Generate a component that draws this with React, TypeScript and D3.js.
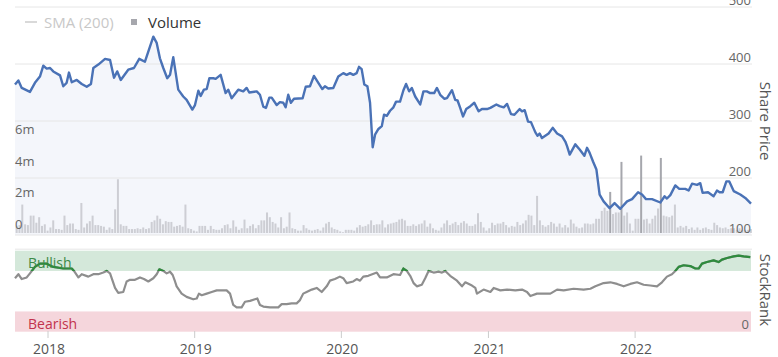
import React from "react";
import * as d3 from "d3";

const W = 778;
const H = 357;
const FONT = "'Open Sans', 'Noto Sans', sans-serif";

// [decimal year, share price]
const sharePrice: [number, number][] = [
  [2017.775, 364], [2017.798, 371], [2017.821, 358], [2017.877, 351], [2017.911, 367], [2017.945, 378],
  [2017.968, 397], [2017.991, 392], [2018.014, 393], [2018.036, 387], [2018.082, 380], [2018.104, 361],
  [2018.127, 367], [2018.143, 385], [2018.162, 368], [2018.196, 372], [2018.230, 365], [2018.264, 360],
  [2018.293, 365], [2018.309, 393], [2018.343, 399], [2018.389, 409], [2018.423, 407], [2018.450, 376],
  [2018.472, 387], [2018.496, 372], [2018.547, 390], [2018.586, 393], [2018.622, 409], [2018.661, 404],
  [2018.718, 448], [2018.741, 437], [2018.763, 410], [2018.786, 393], [2018.813, 375], [2018.832, 381],
  [2018.854, 412], [2018.888, 355], [2018.922, 343], [2018.945, 337], [2018.984, 320], [2019.002, 328],
  [2019.025, 353], [2019.041, 344], [2019.063, 355], [2019.082, 356], [2019.100, 375], [2019.127, 375],
  [2019.143, 374], [2019.177, 381], [2019.211, 349], [2019.229, 355], [2019.252, 340], [2019.297, 355],
  [2019.331, 352], [2019.354, 358], [2019.372, 350], [2019.423, 352], [2019.445, 346], [2019.468, 325],
  [2019.486, 323], [2019.509, 341], [2019.525, 341], [2019.559, 328], [2019.581, 333], [2019.604, 332],
  [2019.620, 324], [2019.638, 346], [2019.656, 332], [2019.677, 339], [2019.736, 340], [2019.757, 360],
  [2019.786, 361], [2019.813, 379], [2019.843, 367], [2019.870, 356], [2019.888, 361], [2019.911, 357],
  [2019.945, 358], [2019.979, 378], [2020.013, 384], [2020.036, 381], [2020.059, 384], [2020.081, 381],
  [2020.104, 384], [2020.120, 395], [2020.138, 391], [2020.156, 364], [2020.177, 361], [2020.195, 332],
  [2020.213, 254], [2020.229, 276], [2020.252, 286], [2020.275, 291], [2020.290, 311], [2020.309, 309],
  [2020.331, 318], [2020.354, 324], [2020.372, 334], [2020.399, 334], [2020.422, 354], [2020.440, 365],
  [2020.461, 352], [2020.479, 358], [2020.502, 343], [2020.536, 329], [2020.558, 352], [2020.581, 352],
  [2020.604, 349], [2020.631, 349], [2020.650, 358], [2020.672, 346], [2020.701, 339], [2020.718, 340],
  [2020.752, 354], [2020.774, 337], [2020.790, 336], [2020.808, 323], [2020.827, 308], [2020.849, 321],
  [2020.877, 326], [2020.904, 332], [2020.933, 317], [2020.956, 321], [2020.990, 321], [2021.013, 323],
  [2021.054, 329], [2021.076, 326], [2021.104, 324], [2021.127, 330], [2021.154, 312], [2021.177, 311],
  [2021.213, 321], [2021.229, 317], [2021.247, 319], [2021.270, 299], [2021.290, 298], [2021.320, 280],
  [2021.335, 274], [2021.349, 278], [2021.365, 270], [2021.410, 278], [2021.438, 288], [2021.468, 278],
  [2021.502, 273], [2021.524, 264], [2021.536, 256], [2021.554, 241], [2021.592, 259], [2021.622, 250],
  [2021.654, 239], [2021.672, 253], [2021.690, 244], [2021.713, 229], [2021.736, 215], [2021.758, 171],
  [2021.785, 159], [2021.826, 147], [2021.860, 156], [2021.899, 146], [2021.945, 159], [2021.979, 163],
  [2022.020, 175], [2022.047, 171], [2022.074, 163], [2022.115, 163], [2022.172, 157], [2022.201, 168],
  [2022.217, 164], [2022.240, 170], [2022.274, 187], [2022.301, 181], [2022.342, 181], [2022.365, 178],
  [2022.388, 190], [2022.422, 188], [2022.444, 191], [2022.460, 174], [2022.497, 175], [2022.535, 168],
  [2022.558, 178], [2022.576, 175], [2022.597, 175], [2022.622, 194], [2022.642, 194], [2022.672, 177],
  [2022.717, 171], [2022.751, 165], [2022.790, 155],
];

// [decimal year, StockRank]
const stockRank: [number, number][] = [
  [2017.775, 66], [2017.798, 71], [2017.821, 65], [2017.855, 67], [2017.877, 72], [2017.911, 80],
  [2017.945, 84], [2017.991, 84], [2018.036, 80], [2018.104, 78], [2018.162, 78], [2018.177, 75],
  [2018.207, 67], [2018.230, 71], [2018.275, 68], [2018.309, 71], [2018.343, 71], [2018.377, 73],
  [2018.400, 75], [2018.423, 72], [2018.457, 54], [2018.479, 48], [2018.513, 49], [2018.536, 62],
  [2018.559, 64], [2018.593, 64], [2018.627, 67], [2018.654, 65], [2018.684, 62], [2018.718, 66],
  [2018.741, 71], [2018.759, 77], [2018.786, 75], [2018.809, 72], [2018.832, 74], [2018.850, 70],
  [2018.866, 62], [2018.877, 56], [2018.911, 47], [2018.945, 43], [2018.990, 40], [2019.014, 41],
  [2019.029, 47], [2019.048, 45], [2019.082, 47], [2019.116, 49], [2019.150, 51], [2019.184, 51],
  [2019.218, 51], [2019.241, 47], [2019.263, 33], [2019.286, 30], [2019.320, 30], [2019.343, 37],
  [2019.377, 38], [2019.411, 40], [2019.427, 41], [2019.445, 33], [2019.468, 31], [2019.513, 30],
  [2019.570, 30], [2019.593, 34], [2019.627, 34], [2019.661, 35], [2019.695, 35], [2019.718, 39],
  [2019.740, 47], [2019.763, 49], [2019.798, 52], [2019.832, 54], [2019.866, 49], [2019.900, 56],
  [2019.922, 63], [2019.956, 65], [2019.990, 68], [2020.013, 66], [2020.036, 60], [2020.081, 62],
  [2020.104, 65], [2020.127, 63], [2020.149, 68], [2020.183, 69], [2020.241, 73], [2020.263, 67],
  [2020.309, 67], [2020.354, 71], [2020.399, 70], [2020.422, 78], [2020.445, 75], [2020.468, 69],
  [2020.491, 60], [2020.513, 56], [2020.547, 58], [2020.570, 66], [2020.593, 75], [2020.627, 73],
  [2020.661, 74], [2020.684, 73], [2020.706, 75], [2020.740, 69], [2020.786, 63], [2020.820, 56],
  [2020.843, 61], [2020.888, 57], [2020.911, 54], [2020.922, 47], [2020.967, 52], [2021.013, 49],
  [2021.036, 54], [2021.081, 51], [2021.127, 52], [2021.183, 51], [2021.229, 52], [2021.263, 49],
  [2021.286, 44], [2021.331, 47], [2021.376, 47], [2021.422, 47], [2021.468, 52], [2021.513, 51],
  [2021.581, 53], [2021.649, 52], [2021.695, 53], [2021.729, 56], [2021.785, 60], [2021.831, 61],
  [2021.877, 59], [2021.922, 56], [2021.967, 59], [2022.013, 61], [2022.058, 58], [2022.104, 57],
  [2022.149, 56], [2022.183, 61], [2022.217, 68], [2022.251, 71], [2022.274, 75], [2022.297, 80],
  [2022.331, 82], [2022.376, 81], [2022.411, 78], [2022.433, 78], [2022.456, 84], [2022.490, 86],
  [2022.535, 88], [2022.569, 86], [2022.592, 89], [2022.627, 91], [2022.672, 93], [2022.706, 94],
  [2022.740, 93], [2022.785, 92],
];

// weekly volume, millions of shares
const weeklyVolumeM: number[] = [
  0.46, 0.5, 1.8, 0.55, 0.5, 1.1, 1.1, 0.65, 1.0, 0.45, 0.55, 0.15, 0.35, 0.8, 0.25, 0.25, 0.2, 1.1, 0.5, 0.6,
  0.6, 0.25, 0.2, 1.9, 0.35, 0.6, 0.75, 1.1, 0.5, 0.5, 0.45, 0.4, 0.2, 0.35, 0.25, 1.5, 3.4, 0.55, 0.45, 0.45,
  0.25, 0.25, 0.25, 0.3, 0.25, 0.35, 0.25, 0.3, 0.7, 0.8, 1.1, 0.9, 0.55, 0.75, 0.7, 0.7, 0.4, 0.45, 0.5, 0.4,
  1.8, 0.3, 0.25, 0.15, 0.1, 0.45, 0.45, 0.45, 0.2, 0.45, 0.25, 0.2, 0.2, 0.3, 0.5, 0.55, 0.3, 0.8, 0.4, 0.2,
  0.3, 0.85, 0.3, 0.45, 0.55, 0.3, 0.5, 0.8, 0.8, 1.3, 1.0, 0.7, 0.6, 0.35, 1.0, 0.3, 0.4, 1.3, 0.3, 0.25,
  0.15, 0.15, 0.5, 0.3, 0.2, 0.15, 0.2, 0.25, 0.15, 0.35, 0.6, 0.7, 0.35, 0.25, 0.2, 0.1, 0.05, 0.2, 0.2, 0.2,
  0.15, 0.35, 0.5, 0.4, 0.45, 0.55, 0.8, 0.5, 0.55, 0.55, 0.8, 0.35, 0.55, 0.6, 0.65, 0.7, 0.85, 0.9, 0.8, 0.45,
  0.45, 0.55, 0.45, 0.55, 0.6, 0.8, 0.4, 0.6, 0.3, 0.2, 0.15, 0.35, 0.6, 0.8, 0.5, 0.6, 0.7, 0.5, 0.65, 0.75,
  0.6, 0.45, 0.45, 0.55, 1.25, 0.7, 0.35, 0.15, 0.3, 0.65, 0.5, 0.6, 0.6, 0.7, 0.5, 0.35, 0.45, 0.4, 0.7, 0.5,
  0.6, 0.8, 1.15, 1.1, 0.5, 2.35, 0.8, 0.5, 0.4, 0.5, 0.7, 0.6, 0.4, 0.6, 0.35, 0.5, 0.35, 0.85, 0.6, 0.4,
  0.3, 0.35, 0.6, 0.6, 0.55, 0.6, 0.9, 0.9, 1.4, 1.6, 1.4, 2.6, 1.2, 1.3, 1.3, 4.5, 1.1, 1.3, 0.6, 0.15,
  0.9, 0.9, 4.9, 0.85, 0.9, 0.6, 0.9, 1.1, 1.55, 4.75, 1.1, 1.05, 1.0, 1.1, 1.8, 0.35, 0.45, 0.35, 0.45, 0.25,
  0.35, 0.2, 0.35, 0.2, 0.3, 0.35, 0.25, 0.2, 0.65, 0.5, 0.35, 0.3, 0.35, 0.25, 0.3, 0.3, 0.2, 0.3, 0.2, 0.2,
  0.2, 0.25,
];

const priceTicks = [100, 200, 300, 400, 500];
const volumeTicks = [0, 2, 4, 6];
const yearTicks = [2018, 2019, 2020, 2021, 2022];
const rankBands = [
  { label: "Bullish", from: 75, to: 100 },
  { label: "Bearish", from: 0, to: 25 },
];
const rangeStart = 2017.775;
const rangeEnd = 2022.79;

function yearToDate(t: number): Date {
  const y = Math.floor(t);
  const s = Date.UTC(y, 0, 1);
  const e = Date.UTC(y + 1, 0, 1);
  return new Date(s + (t - y) * (e - s));
}

export default function App() {
  const left = 15;
  const right = 751;
  const x = d3.scaleUtc().domain([yearToDate(rangeStart), yearToDate(rangeEnd)]).range([left, right]);
  const yPrice = d3.scaleLinear().domain([100, 500]).range([235, 7]);
  const yVol = d3.scaleLinear().domain([0, 6]).range([233, 138.2]);
  const yRank = d3.scaleLinear().domain([0, 100]).range([331.7, 250.7]);

  const priceLine = d3
    .line<[number, number]>()
    .x((d) => x(yearToDate(d[0])))
    .y((d) => yPrice(d[1]));
  const priceArea = d3
    .area<[number, number]>()
    .x((d) => x(yearToDate(d[0])))
    .y0(yPrice(100))
    .y1((d) => yPrice(d[1]));
  const rankLine = d3
    .line<[number, number]>()
    .x((d) => x(yearToDate(d[0])))
    .y((d) => yRank(d[1]));

  const weeks = d3.utcWeek.range(yearToDate(rangeStart), d3.utcDay.offset(yearToDate(rangeEnd), 1));
  const bars = weeklyVolumeM.map((v, i) => ({ date: weeks[Math.min(i, weeks.length - 1)], v }));
  const darkFrom = yearToDate(2021.5);

  const gridColor = "#e6e6e6";
  const labelColor = "#666";

  return (
    <svg
      width={W}
      height={H}
      style={{ position: "absolute", left: 0, top: 0, background: "#fff" }}
      fontFamily={FONT}
    >
      <defs>
        <clipPath id="bull-clip">
          <rect x={0} y={yRank(100) - 3} width={W} height={yRank(75) - yRank(100) + 3} />
        </clipPath>
      </defs>

      {/* price area */}
      <path d={priceArea(sharePrice) || ""} fill="#f4f6fb" />

      {/* gridlines */}
      {priceTicks.map((t) => (
        <line key={t} x1={left} x2={right + 1} y1={yPrice(t)} y2={yPrice(t)} stroke={gridColor} strokeWidth={1} />
      ))}

      {/* volume bars */}
      {bars.map((b, i) => (
        <rect
          key={i}
          x={x(b.date) - 1}
          y={yVol(b.v)}
          width={2}
          height={yVol(0) - yVol(b.v)}
          fill={b.v > 2.5 && b.date > darkFrom ? "#a6a7ad" : "#cdced4"}
        />
      ))}

      {/* price line */}
      <path d={priceLine(sharePrice) || ""} fill="none" stroke="#4a72b6" strokeWidth={2.4} strokeLinejoin="round" />

      {/* price labels */}
      {priceTicks.map((t) => (
        <text key={t} x={right} y={yPrice(t) - 2.5} textAnchor="end" fontSize={13} fill={labelColor}>
          {t}
        </text>
      ))}
      {/* volume labels */}
      {volumeTicks.map((t) => (
        <text key={t} x={left} y={yVol(t * 1) - 4} fontSize={13} fill={labelColor}>
          {t === 0 ? "0" : `${t}m`}
        </text>
      ))}

      {/* legend */}
      <line x1={25} x2={37} y1={22} y2={22} stroke="#ccc" strokeWidth={1.5} />
      <text x={44} y={27.5} fontSize={15} fill="#c8c8c8">
        SMA (200)
      </text>
      <rect x={131} y={19} width={6} height={6} fill="#a6a7ad" />
      <text x={148} y={27.5} fontSize={15} fill="#333">
        Volume
      </text>

      {/* Share Price title */}
      <text
        transform={`translate(760,121) rotate(90)`}
        textAnchor="middle"
        fontSize={15}
        fill="#555"
      >
        Share Price
      </text>

      {/* StockRank panel */}
      <line x1={left} x2={right + 1} y1={yRank(100) - 1.5} y2={yRank(100) - 1.5} stroke={gridColor} />
      {rankBands.map((b) => (
        <rect
          key={b.label}
          x={left}
          y={yRank(b.to)}
          width={right - left}
          height={yRank(b.from) - yRank(b.to)}
          fill={b.label === "Bullish" ? "#d4e8da" : "#f5d6dc"}
        />
      ))}
      <text x={28} y={yRank(100) + 17} fontSize={14} fill="#3d8a47">
        Bullish
      </text>
      <text x={28} y={yRank(0) - 3} fontSize={14} fill="#c2334d">
        Bearish
      </text>
      <path d={rankLine(stockRank) || ""} fill="none" stroke="#8e8e8e" strokeWidth={2.2} strokeLinejoin="round" />
      <path
        d={rankLine(stockRank) || ""}
        fill="none"
        stroke="#2e8b3d"
        strokeWidth={2.2}
        strokeLinejoin="round"
        clipPath="url(#bull-clip)"
      />
      <text x={right - 2} y={yRank(0) - 3} textAnchor="end" fontSize={13} fill={labelColor}>
        0
      </text>
      <text
        transform={`translate(760,290) rotate(90)`}
        textAnchor="middle"
        fontSize={15}
        fill="#555"
      >
        StockRank
      </text>

      {/* x axis */}
      {yearTicks.map((yr) => {
        const px = x(yearToDate(yr));
        return (
          <g key={yr}>
            <line x1={px} x2={px} y1={331} y2={338} stroke="#ccc" />
            <text x={px + 1} y={354} textAnchor="middle" fontSize={14} fill="#555">
              {yr}
            </text>
          </g>
        );
      })}
    </svg>
  );
}
